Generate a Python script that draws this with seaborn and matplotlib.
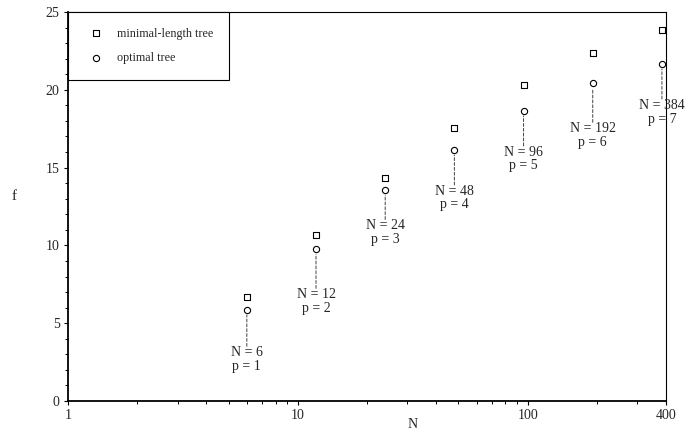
import numpy as np
import pandas as pd
import seaborn as sns
import matplotlib.pyplot as plt
from matplotlib.ticker import LogLocator, NullFormatter, MultipleLocator, FixedLocator

# values
n_vals = [6, 12, 24, 48, 96, 192, 384]
p_vals = [1, 2, 3, 4, 5, 6, 7]
f_minimal = [6.68, 10.64, 14.3, 17.56, 20.3, 22.34, 23.85]
f_optimal = [5.84, 9.74, 13.54, 16.12, 18.63, 20.41, 21.64]
# how far (points) each N/p label sits under its circle
label_drop = [26, 28, 21, 25, 25, 28, 25]

xtick_vals = [1, 10, 100, 400]
xtick_labels = ['1', '10', '100', '400']

df = pd.DataFrame({
    'N': n_vals * 2,
    'f': f_minimal + f_optimal,
    'tree': ['minimal-length tree'] * len(n_vals) + ['optimal tree'] * len(n_vals),
})

sns.set_theme(style='ticks')
plt.rcParams['font.family'] = ['Liberation Serif', 'DejaVu Serif']
plt.rcParams['font.size'] = 10

fig = plt.figure(figsize=(6.86, 4.32), dpi=100)
ax = fig.add_axes([68/686, 31/432, 598/686, 389/432])

sns.scatterplot(data=df[df.tree == 'minimal-length tree'], x='N', y='f', marker='s', s=22,
                color='white', edgecolor='black', linewidth=0.8, label='minimal-length tree', ax=ax, zorder=3)
sns.scatterplot(data=df[df.tree == 'optimal tree'], x='N', y='f', marker='o', s=20,
                color='white', edgecolor='black', linewidth=0.8, label='optimal tree', ax=ax, zorder=3)

for n, p, fo, d in zip(n_vals, p_vals, f_optimal, label_drop):
    ax.annotate(f'N = {n}\np = {p}', xy=(n, fo), xytext=(0, -d), textcoords='offset points',
                ha='center', va='top', fontsize=10, linespacing=1.05,
                arrowprops=dict(arrowstyle='-', linestyle=(0, (3, 2)), lw=0.7, color='0.25',
                                shrinkA=0, shrinkB=3.5, relpos=(0.5, 1.0), patchA=None))

ax.set_xscale('log')
ax.set_xlim(1, 400)
ax.set_ylim(0, 25)
ax.xaxis.set_major_locator(FixedLocator(xtick_vals))
ax.set_xticklabels(xtick_labels)
ax.xaxis.set_minor_locator(LogLocator(base=10, subs=np.arange(2, 10)))
ax.xaxis.set_minor_formatter(NullFormatter())
ax.yaxis.set_major_locator(MultipleLocator(5))
ax.yaxis.set_minor_locator(MultipleLocator(1))
ax.tick_params(which='major', length=3, width=0.8, labelsize=10, pad=3, color='black')
ax.tick_params(which='minor', length=2, width=0.7, color='black')

for side in ['left', 'bottom']:
    ax.spines[side].set_linewidth(1.3)
for side in ['top', 'right']:
    ax.spines[side].set_linewidth(0.8)
for s in ax.spines.values():
    s.set_color('black')

ax.set_xlabel('N', fontsize=10, va='center')
ax.xaxis.set_label_coords((413 - 68) / 598, -(424 - 401) / 389)
ax.set_ylabel('f', rotation=0, fontsize=11, va='center', ha='center')
ax.yaxis.set_label_coords(-(68 - 14) / 598, (401 - 196) / 389)

leg = ax.legend(loc='upper left', borderaxespad=0, fancybox=False, frameon=True,
                edgecolor='black', framealpha=1, scatterpoints=1, fontsize=8.7,
                borderpad=1.29, labelspacing=1.05, handletextpad=0.71, handlelength=2.05)
leg.get_frame().set_linewidth(0.8)

fig.savefig('out.png', dpi=100)
